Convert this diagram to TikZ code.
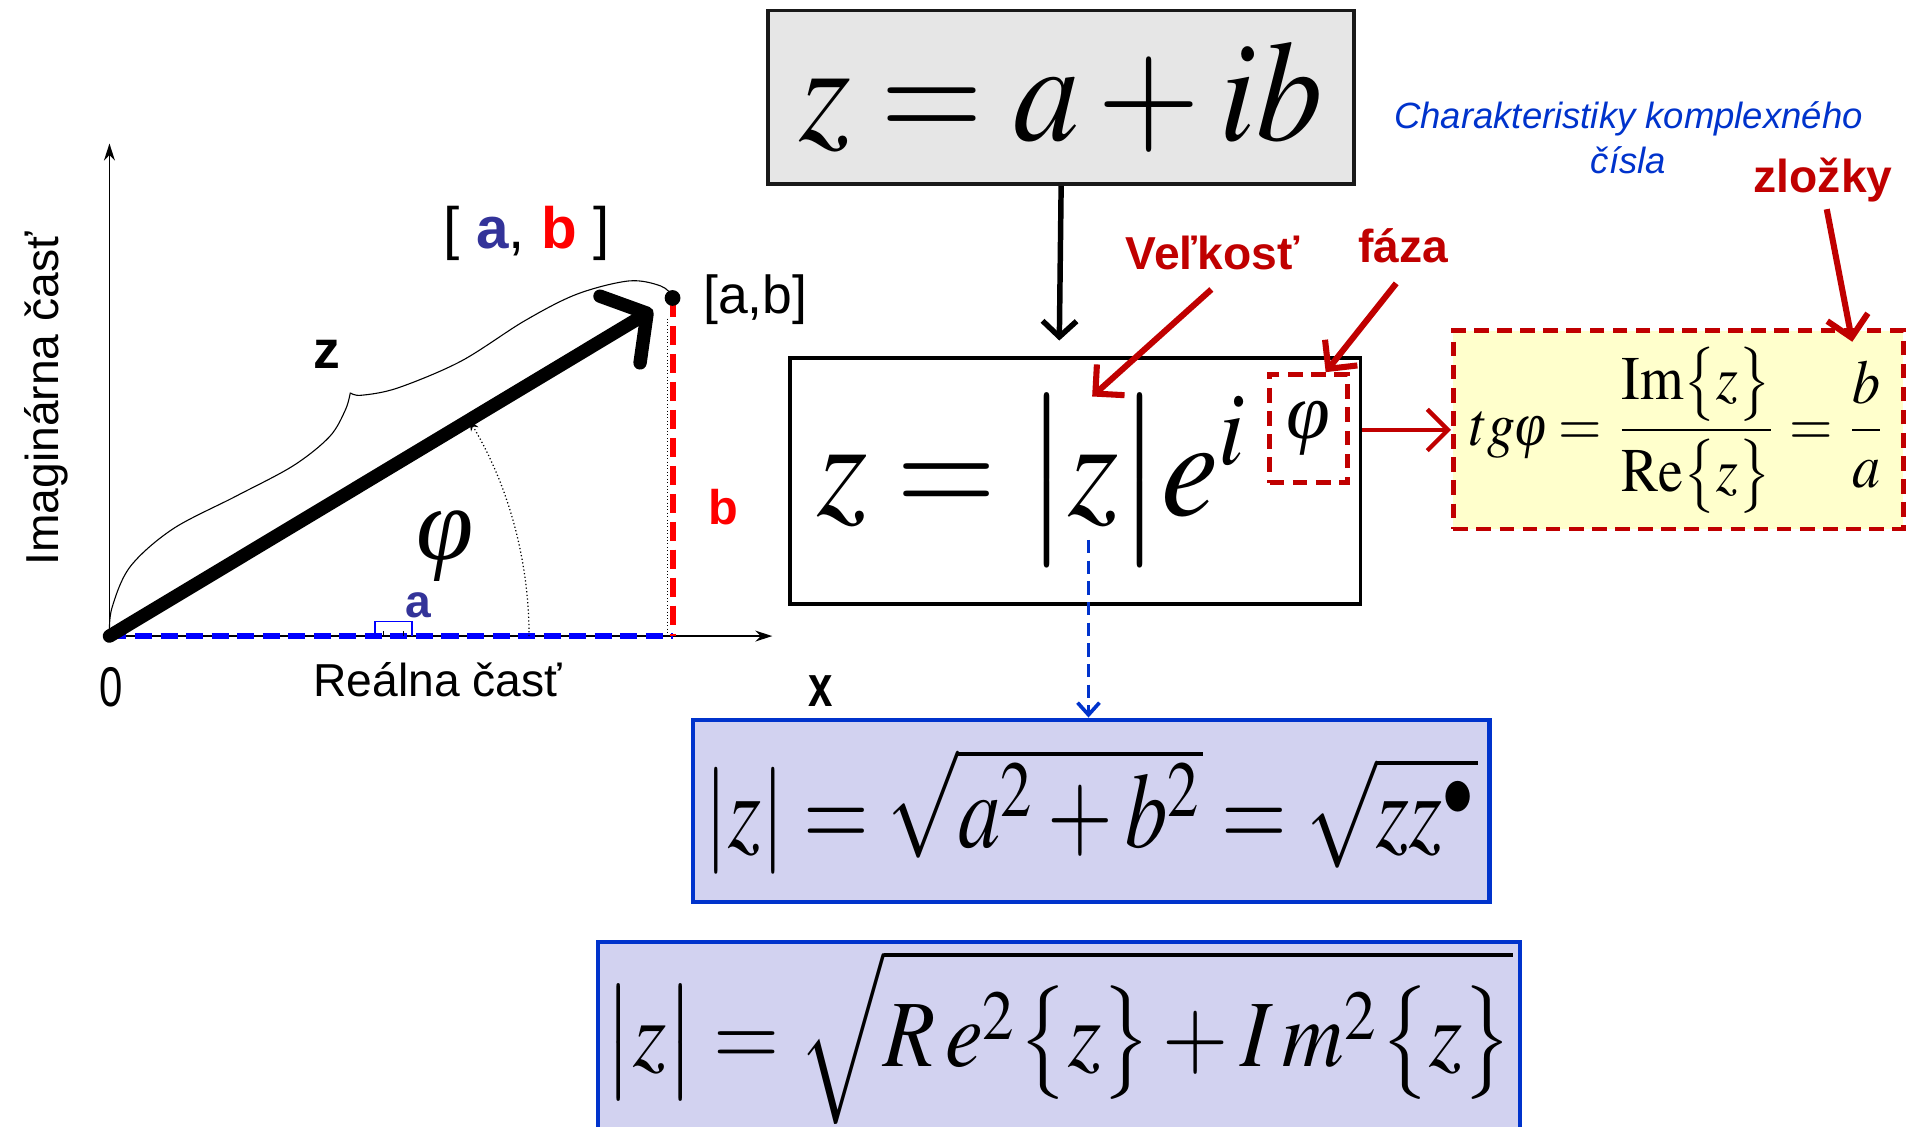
\documentclass[tikz,border=0pt]{standalone}
\usepackage{mathptmx}
\usepackage[no-math]{fontspec}
\setmainfont{Liberation Serif}
\setsansfont{Liberation Sans}
\renewcommand{\familydefault}{\sfdefault}
\usetikzlibrary{positioning, arrows.meta, calc}
\definecolor{darkred}{HTML}{C00000}
\definecolor{brightred}{HTML}{FF0000}
\definecolor{navy}{HTML}{333399}
\definecolor{royal}{HTML}{0033CC}
\definecolor{axisblue}{HTML}{0000FF}
\definecolor{lavender}{HTML}{D2D2F0}
\definecolor{paleyellow}{HTML}{FFFFCC}
\definecolor{boxgray}{HTML}{E6E6E6}
\newcommand{\fsz}[1]{\fontsize{#1}{#1}\selectfont}
\newcommand{\phiit}{\mbox{\rmfamily\itshape φ}}

\begin{document}
\begin{tikzpicture}[x=1pt, y=-1pt, font=\sffamily,
  eqbox/.style={line width=3pt, inner sep=0pt, anchor=north west},
  phasebox/.style={draw=darkred, line width=4pt, dash pattern=on 12pt off 7pt, inner sep=0pt, anchor=north west},
  axline/.style={line width=1.5pt, -{Stealth[length=14pt, width=9pt]}},
  vecline/.style={line width=11pt, line cap=round, -{Straight Barb[length=26pt, width=64pt, round]}},
  callout/.style={darkred, line width=5pt, -{Straight Barb[length=17pt, width=34pt]}},
  mainarrow/.style={line width=4.5pt, -{Straight Barb[length=13pt, width=28pt]}},
  modarrow/.style={royal, line width=3pt, dash pattern=on 11pt off 6pt, -{Straight Barb[length=10pt, width=18pt]}},
  lbl/.style={inner sep=0pt, anchor=base, font=\fsz{38}},
  redlbl/.style={lbl, text=darkred, font=\bfseries\fsz{38}}]

  \useasboundingbox (0,0) rectangle (1568,926);
  \clip (0,0) rectangle (1568,926);

  % complex plane
  \coordinate (O) at (90,523);
  \coordinate (P) at (553,245);
  \coordinate (ytop) at (90,118);
  \coordinate (xend) at (635,523);
  \draw[axline] (O) -- (ytop);
  \draw[axline] (O) -- (xend);
  \draw[axisblue, line width=5.5pt, dash pattern=on 14pt off 7pt] (O) -- (P |- O);
  \draw[line width=0.8pt, dotted] (549,262) -- (549,523);
  \draw[brightred, line width=5pt, dash pattern=on 16pt off 7pt] (P) -- (P |- O);
  \draw[axisblue, line width=1.5pt] (308,523) -- (308,511) -- (339,511) -- (339,523);
  \foreach \tx in {315,332}
    \draw[line width=0.8pt] (\tx,519) -- (\tx,523);
  % brace over z
  \draw[line width=0.9pt] plot[smooth, tension=0.55] coordinates {
      (90,522) (92,500) (107,466) (142,435) (194,408) (241,383) (271,359) (284,337) (288,323)};
  \draw[line width=0.9pt] plot[smooth, tension=0.55] coordinates {
      (288,323) (297,325) (327,319) (379,297) (431,264) (474,242) (517,231) (543,235) (553,243)};
  \draw[vecline] (O) -- ($(O)!0.965!(P)$);
  \fill (P) circle[radius=6.5];
  \draw[line width=1pt, dotted, -{Stealth[length=9pt, width=7pt]}] (435,523) arc[start angle=0, end angle=-31, radius=345];

  \node[lbl, rotate=90] (lblim) at (48,328) {Imaginárna časť};
  \node[lbl] (lblre) at (360,573) {Reálna časť};
  \node[lbl, font=\fsz{46}] (lblzero) at (91,581) {\scalebox{0.75}[1]{0}};
  \node[lbl, font=\bfseries\fsz{48}] (lblx) at (675,581) {\scalebox{0.75}[1]{x}};
  \node[lbl, font=\fsz{48}] (lblab) at (433,204) {[ \textcolor{navy}{\bfseries a}, \textcolor{brightred}{\bfseries b} ]};
  \node[lbl, font=\fsz{44}] (lblpt) at (621,258) {[a,b]};
  \node[lbl, font=\bfseries\fsz{44}] (lblz) at (269,303) {z};
  \node[lbl, text=brightred, font=\bfseries\fsz{40}] (lblb) at (595,431) {b};
  \node[lbl, text=navy, font=\bfseries\fsz{38}] (lbla) at (344,508) {a};
  \node[inner sep=0pt] (lblphi) at (366,449) {\scalebox{8.5}{\phiit}};

  % formula boxes
  \node[eqbox, draw=black!90, fill=boxgray, minimum width=482, minimum height=143] (boxalg) at (630,7) {\scalebox{10.9}[11.8]{$z=a+ib$}};
  \node[eqbox, draw=black, fill=white, minimum width=469, minimum height=202] (boxexp) at (648,293) {};
  \node[inner sep=0pt, anchor=base west] (expform) at (672,424) {\scalebox{10.6}[11.6]{$z=\bigl|z\bigr|e^{i}$}};
  \node[phasebox, minimum width=64, minimum height=89] (phibox) at (1042,306) {\scalebox{6.5}{\phiit}};
  \node[eqbox, draw=darkred, fill=paleyellow, line width=4pt, dash pattern=on 12pt off 7pt, minimum width=370, minimum height=163] (tgbox) at (1193,270)
    {\scalebox{4.6}[5.1]{$\displaystyle tg\phiit=\frac{\mathrm{Im}\bigl\{z\bigr\}}{\mathrm{Re}\bigl\{z\bigr\}}=\frac{b}{a}$}};
  \node[eqbox, draw=royal, fill=lavender, line width=3.5pt, minimum width=655, minimum height=150] (modbox) at (568,590)
    {\scalebox{6.95}[8.8]{$|z|=\sqrt{a^2+b^2}=\sqrt{zz^{\bullet}}$}};
  \node[eqbox, draw=royal, fill=lavender, line width=3.5pt, minimum width=758, minimum height=200] (modbox2) at (490,773) {};
  \node[inner sep=0pt, anchor=base west] (modform) at (497,877)
    {\scalebox{7.0}[7.8]{$\bigl|z\bigr|=\sqrt{R\,e^2\bigl\{z\bigr\}+I\,m^2\bigl\{z\bigr\}}$}};

  % labels
  \node[redlbl] (lblvel) at (997,222) {Veľkosť};
  \node[redlbl] (lblfaza) at (1154,216) {fáza};
  \node[redlbl] (lblzlozky) at (1499,158) {zložky};
  \node[inner sep=0pt, align=center, text=royal, font=\itshape\fontsize{30}{37}\selectfont] (lblchar) at (1339,113) {Charakteristiky komplexného\\čísla};

  % connectors
  \coordinate (dnend) at (871,280);
  \draw[mainarrow] (boxalg.south) -- (dnend);
  \coordinate (velfrom) at (996,238);
  \coordinate (zmag) at (898,326);
  \coordinate (fazfrom) at (1148,233);
  \coordinate (phitip) at (1090,306);
  \coordinate (zlfrom) at (1502,172);
  \coordinate (zltip) at (1523,281);
  \foreach \a/\b in {velfrom/zmag, fazfrom/phitip, zlfrom/zltip}
    \draw[callout] (\a) -- (\b);
  \draw[callout, line width=3.5pt] (boxexp.east |- tgbox.west) -- (tgbox.west);
  \coordinate (zbot) at (895,444);
  \draw[modarrow] (zbot) -- (zbot |- modbox.north);
\end{tikzpicture}
\end{document}
